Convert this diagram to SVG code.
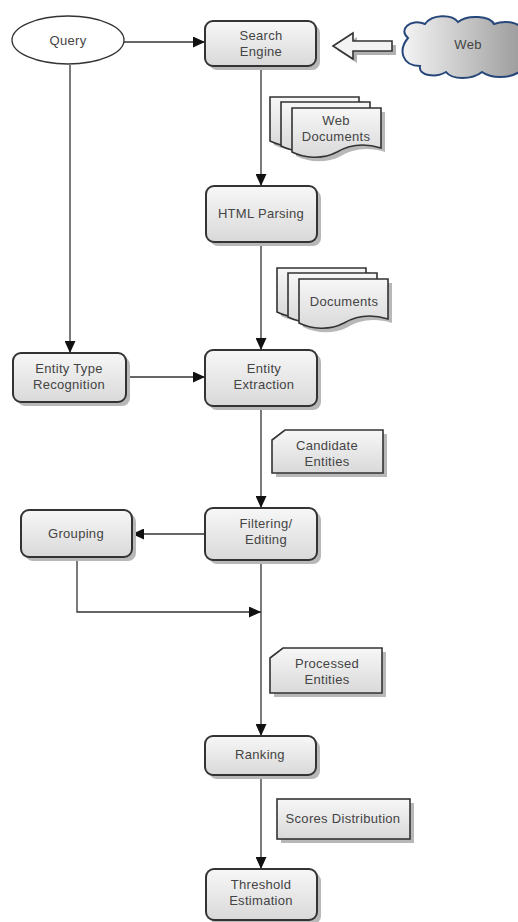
<svg xmlns="http://www.w3.org/2000/svg" width="518" height="922" viewBox="0 0 518 922">
  <defs>
    <linearGradient id="boxFill" x1="0" y1="0" x2="0" y2="1">
      <stop offset="0" stop-color="#f7f7f7"/>
      <stop offset="1" stop-color="#d9d9d9"/>
    </linearGradient>
    <linearGradient id="cloudFill" x1="0" y1="0" x2="1" y2="0">
      <stop offset="0" stop-color="#f4f4f4"/>
      <stop offset="1" stop-color="#9c9c9c"/>
    </linearGradient>
    <marker id="arrow" markerWidth="12" markerHeight="11" refX="12" refY="5.5" orient="auto" markerUnits="userSpaceOnUse">
      <path d="M0,0 L12,5.5 L0,11 Z" fill="#111"/>
    </marker>
    <path id="docPage" d="M0,0 H89 V40 C70,34 55,38 45,44 C30,52 12,50 0,44 Z"/>
  </defs>
  <style>
    .box { fill: url(#boxFill); stroke: #333; stroke-width: 2; }
    .shadow { fill: #b8b8b8; }
    .doc { fill: url(#boxFill); stroke: #333; stroke-width: 1.6; }
    .lbl { font-family: "Liberation Sans", Arial, sans-serif; font-size: 13px; letter-spacing: 0.3px; fill: #444; text-anchor: middle; }
    .edge { stroke: #333; stroke-width: 1.3; fill: none; }
  </style>

  <rect width="518" height="922" fill="#ffffff"/>

  <!-- connectors -->
  <g id="connectors">
    <line class="edge" x1="124" y1="42" x2="205" y2="42" marker-end="url(#arrow)"/>
    <line class="edge" x1="70" y1="65" x2="70" y2="353" marker-end="url(#arrow)"/>
    <line class="edge" x1="261" y1="67" x2="261" y2="186" marker-end="url(#arrow)"/>
    <line class="edge" x1="261" y1="242" x2="261" y2="350" marker-end="url(#arrow)"/>
    <line class="edge" x1="126" y1="377" x2="205" y2="377" marker-end="url(#arrow)"/>
    <line class="edge" x1="261" y1="406" x2="261" y2="508" marker-end="url(#arrow)"/>
    <line class="edge" x1="205" y1="534" x2="132" y2="534" marker-end="url(#arrow)"/>
    <line class="edge" x1="261" y1="560" x2="261" y2="736" marker-end="url(#arrow)"/>
    <polyline class="edge" points="77,557 77,612 261,612" marker-end="url(#arrow)"/>
    <line class="edge" x1="261" y1="775" x2="261" y2="869" marker-end="url(#arrow)"/>
    <!-- hollow block arrow from the web -->
    <path d="M337,50 L357,37 V45 H396 V55 H357 V63 Z" fill="#b0b0b0"/>
    <path d="M333,46 L353,33 V41 H392 V51 H353 V59 Z" fill="#f3f3f3" stroke="#333" stroke-width="1.6"/>
  </g>

  <!-- nodes -->
  <g id="query">
    <ellipse cx="68" cy="40" rx="56" ry="24" fill="#fff" stroke="#333" stroke-width="1.3"/>
    <text class="lbl" x="68" y="45">Query</text>
  </g>

  <g id="search-engine">
    <rect class="shadow" x="209" y="25" width="111" height="45" rx="8"/>
    <rect class="box" x="205" y="21" width="111" height="45" rx="8"/>
    <text class="lbl" x="261" y="40">Search</text>
    <text class="lbl" x="261" y="56">Engine</text>
  </g>

  <g id="web">
    <path d="M408,38 C398,30 410,18 425,24 C432,14 452,14 458,22 C468,14 490,16 494,24 C505,20 520,22 522,30 L522,70 C510,80 490,78 482,72 C472,80 452,80 446,72 C436,78 418,76 420,66 C402,66 398,50 408,38 Z" fill="url(#cloudFill)" stroke="#27467a" stroke-width="2"/>
    <text class="lbl" x="468" y="49">Web</text>
  </g>

  <g id="web-documents">
    <use href="#docPage" x="274" y="101" class="shadow"/>
    <use href="#docPage" x="270" y="97" class="doc"/>
    <use href="#docPage" x="281" y="102" class="doc"/>
    <use href="#docPage" x="296" y="112" class="shadow"/>
    <use href="#docPage" x="292" y="108" class="doc"/>
    <text class="lbl" x="336" y="125">Web</text>
    <text class="lbl" x="336" y="141">Documents</text>
  </g>

  <g id="html-parsing">
    <rect class="shadow" x="210" y="190" width="111" height="56" rx="8"/>
    <rect class="box" x="206" y="186" width="111" height="56" rx="8"/>
    <text class="lbl" x="261" y="218">HTML Parsing</text>
  </g>

  <g id="documents">
    <use href="#docPage" x="281" y="272" class="shadow"/>
    <use href="#docPage" x="277" y="268" class="doc"/>
    <use href="#docPage" x="288" y="273" class="doc"/>
    <use href="#docPage" x="303" y="283" class="shadow"/>
    <use href="#docPage" x="299" y="279" class="doc"/>
    <text class="lbl" x="344" y="306">Documents</text>
  </g>

  <g id="entity-type-recognition">
    <rect class="shadow" x="17" y="357" width="113" height="49" rx="8"/>
    <rect class="box" x="13" y="353" width="113" height="49" rx="8"/>
    <text class="lbl" x="69" y="373">Entity Type</text>
    <text class="lbl" x="69" y="389">Recognition</text>
  </g>

  <g id="entity-extraction">
    <rect class="shadow" x="209" y="354" width="112" height="56" rx="8"/>
    <rect class="box" x="205" y="350" width="112" height="56" rx="8"/>
    <text class="lbl" x="264" y="373">Entity</text>
    <text class="lbl" x="264" y="389">Extraction</text>
  </g>

  <g id="candidate-entities">
    <path class="shadow" d="M276,444 L289,434 H387 V477 H276 Z"/>
    <path class="doc" d="M272,440 L285,430 H383 V473 H272 Z"/>
    <text class="lbl" x="327" y="450">Candidate</text>
    <text class="lbl" x="327" y="466">Entities</text>
  </g>

  <g id="grouping">
    <rect class="shadow" x="25" y="514" width="111" height="47" rx="8"/>
    <rect class="box" x="21" y="510" width="111" height="47" rx="8"/>
    <text class="lbl" x="76" y="538">Grouping</text>
  </g>

  <g id="filtering-editing">
    <rect class="shadow" x="209" y="512" width="112" height="52" rx="8"/>
    <rect class="box" x="205" y="508" width="112" height="52" rx="8"/>
    <text class="lbl" x="266" y="528">Filtering/</text>
    <text class="lbl" x="266" y="544">Editing</text>
  </g>

  <g id="processed-entities">
    <path class="shadow" d="M274,662 L287,652 H386 V697 H274 Z"/>
    <path class="doc" d="M270,658 L283,648 H382 V693 H270 Z"/>
    <text class="lbl" x="327" y="668">Processed</text>
    <text class="lbl" x="327" y="684">Entities</text>
  </g>

  <g id="ranking">
    <rect class="shadow" x="209" y="740" width="111" height="39" rx="8"/>
    <rect class="box" x="205" y="736" width="111" height="39" rx="8"/>
    <text class="lbl" x="260" y="759">Ranking</text>
  </g>

  <g id="scores-distribution">
    <rect class="shadow" x="281" y="803" width="133" height="40"/>
    <rect class="doc" x="277" y="799" width="133" height="40"/>
    <text class="lbl" x="343" y="823">Scores Distribution</text>
  </g>

  <g id="threshold-estimation">
    <rect class="shadow" x="210" y="873" width="111" height="51" rx="8"/>
    <rect class="box" x="206" y="869" width="111" height="51" rx="8"/>
    <text class="lbl" x="261" y="889">Threshold</text>
    <text class="lbl" x="261" y="905">Estimation</text>
  </g>
</svg>
